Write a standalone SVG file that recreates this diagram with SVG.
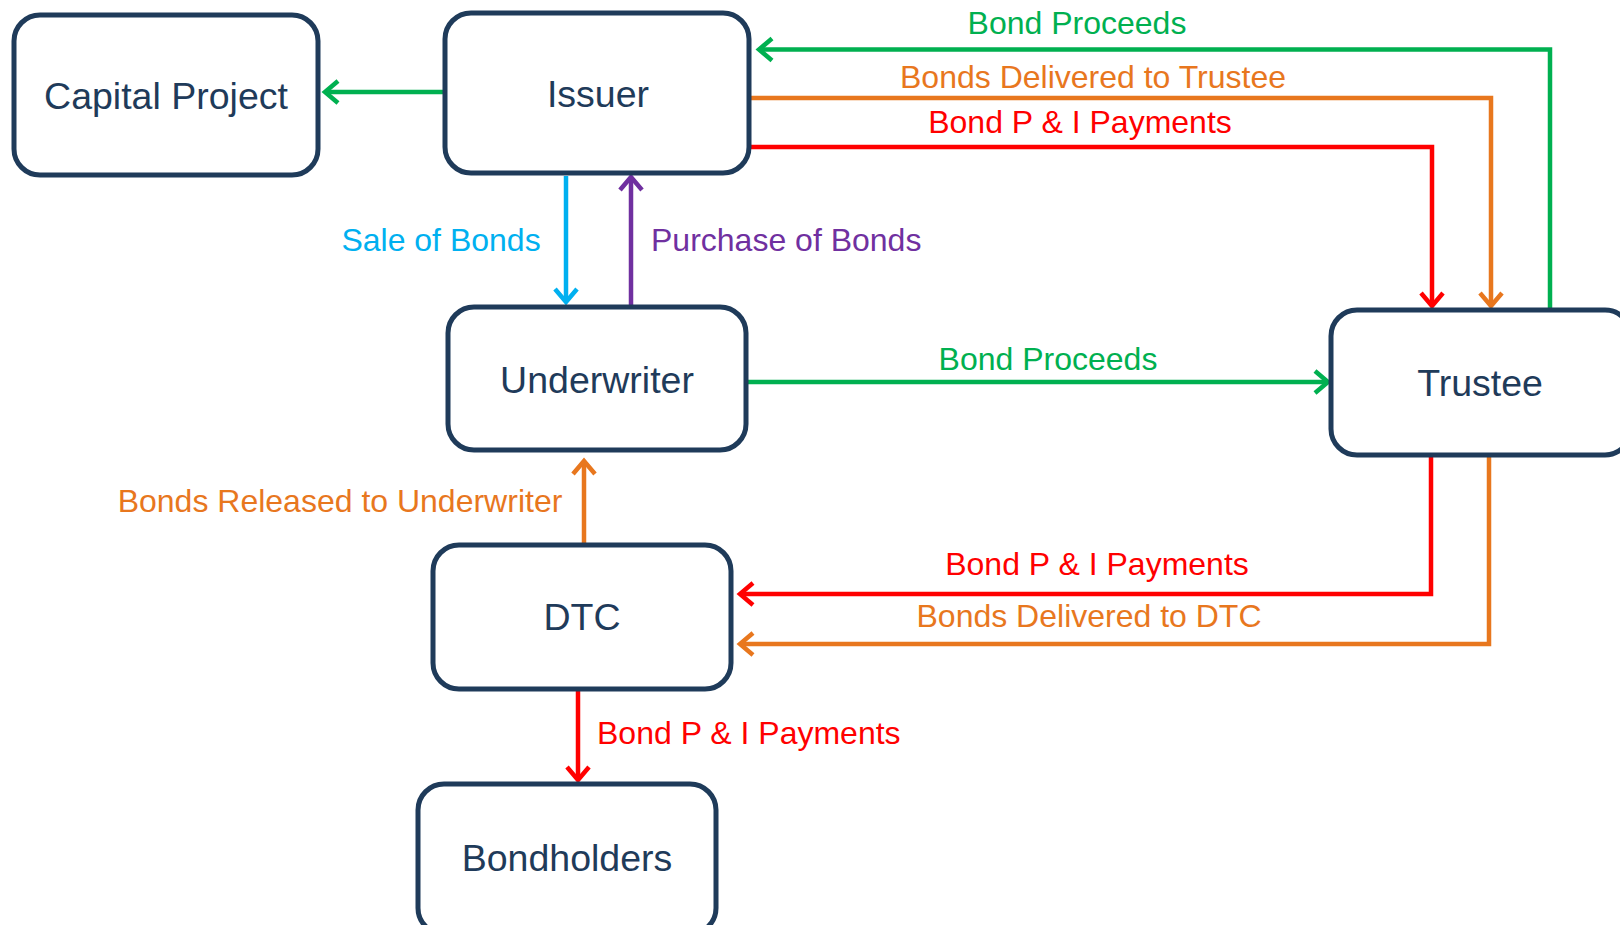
<svg xmlns="http://www.w3.org/2000/svg" width="1620" height="925" viewBox="0 0 1620 925">
<style>
.box{fill:#fff;stroke:#1f3b5a;stroke-width:5}
.nt{font-family:"Liberation Sans",Arial,sans-serif;font-size:37.5px;fill:#1f3b5a;text-anchor:middle}
.lb{font-family:"Liberation Sans",Arial,sans-serif;font-size:32px}
.c{fill:none;stroke-width:4.5;stroke-linejoin:miter}
.g{stroke:#00b050}.o{stroke:#e8771e}.r{stroke:#ff0000}.b{stroke:#00b0f0}.p{stroke:#7030a0}
</style>
<defs>
<marker id="ag" markerUnits="userSpaceOnUse" markerWidth="32" markerHeight="32" refX="0" refY="0" viewBox="-16 -16 32 32" orient="auto"><path d="M-13,-11 L0,0 L-13,11" fill="none" stroke="#00b050" stroke-width="4.5"/></marker>
<marker id="ao" markerUnits="userSpaceOnUse" markerWidth="32" markerHeight="32" refX="0" refY="0" viewBox="-16 -16 32 32" orient="auto"><path d="M-13,-11 L0,0 L-13,11" fill="none" stroke="#e8771e" stroke-width="4.5"/></marker>
<marker id="ar" markerUnits="userSpaceOnUse" markerWidth="32" markerHeight="32" refX="0" refY="0" viewBox="-16 -16 32 32" orient="auto"><path d="M-13,-11 L0,0 L-13,11" fill="none" stroke="#ff0000" stroke-width="4.5"/></marker>
<marker id="ab" markerUnits="userSpaceOnUse" markerWidth="32" markerHeight="32" refX="0" refY="0" viewBox="-16 -16 32 32" orient="auto"><path d="M-13,-11 L0,0 L-13,11" fill="none" stroke="#00b0f0" stroke-width="4.5"/></marker>
<marker id="ap" markerUnits="userSpaceOnUse" markerWidth="32" markerHeight="32" refX="0" refY="0" viewBox="-16 -16 32 32" orient="auto"><path d="M-13,-11 L0,0 L-13,11" fill="none" stroke="#7030a0" stroke-width="4.5"/></marker>
</defs>
<rect width="1620" height="925" fill="#fff"/>
<g id="connectors">
<path class="c g" d="M445,92 L325,92" marker-end="url(#ag)"/>
<path class="c g" d="M1550,310 L1550,49.5 L759,49.5" marker-end="url(#ag)"/>
<path class="c o" d="M749,98 L1491,98 L1491,306" marker-end="url(#ao)"/>
<path class="c r" d="M749,147 L1432,147 L1432,306" marker-end="url(#ar)"/>
<path class="c b" d="M566,176 L566,302" marker-end="url(#ab)"/>
<path class="c p" d="M631,306 L631,177" marker-end="url(#ap)"/>
<path class="c g" d="M746,382 L1328,382" marker-end="url(#ag)"/>
<path class="c o" d="M584,545 L584,461" marker-end="url(#ao)"/>
<path class="c r" d="M1431,455 L1431,594 L740,594" marker-end="url(#ar)"/>
<path class="c o" d="M1489,455 L1489,644 L740,644" marker-end="url(#ao)"/>
<path class="c r" d="M578,689 L578,780" marker-end="url(#ar)"/>
</g>
<g id="labels">
<text class="lb" x="1077" y="34" text-anchor="middle" fill="#00b050">Bond Proceeds</text>
<text class="lb" x="1093" y="88" text-anchor="middle" fill="#e8771e">Bonds Delivered to Trustee</text>
<text class="lb" x="1080" y="133" text-anchor="middle" fill="#ff0000">Bond P &amp; I Payments</text>
<text class="lb" x="441" y="251" text-anchor="middle" fill="#00b0f0">Sale of Bonds</text>
<text class="lb" x="651" y="251" fill="#7030a0">Purchase of Bonds</text>
<text class="lb" x="1048" y="370" text-anchor="middle" fill="#00b050">Bond Proceeds</text>
<text class="lb" x="340" y="512" text-anchor="middle" fill="#e8771e">Bonds Released to Underwriter</text>
<text class="lb" x="1097" y="575" text-anchor="middle" fill="#ff0000">Bond P &amp; I Payments</text>
<text class="lb" x="1089" y="627" text-anchor="middle" fill="#e8771e">Bonds Delivered to DTC</text>
<text class="lb" x="597" y="744" fill="#ff0000">Bond P &amp; I Payments</text>
</g>
<g id="capital-project"><rect class="box" x="14" y="15" width="304" height="160" rx="26"/><text class="nt" x="166" y="109">Capital Project</text></g>
<g id="issuer"><rect class="box" x="445" y="13" width="304" height="160" rx="26"/><text class="nt" x="598" y="107">Issuer</text></g>
<g id="underwriter"><rect class="box" x="448" y="307" width="298" height="143" rx="26"/><text class="nt" x="597" y="393">Underwriter</text></g>
<g id="trustee"><rect class="box" x="1331" y="310" width="300" height="145" rx="26"/><text class="nt" x="1480" y="396">Trustee</text></g>
<g id="dtc"><rect class="box" x="433" y="545" width="298" height="144" rx="26"/><text class="nt" x="582" y="630">DTC</text></g>
<g id="bondholders"><rect class="box" x="418" y="784" width="298" height="150" rx="26"/><text class="nt" x="567" y="871">Bondholders</text></g>
</svg>
